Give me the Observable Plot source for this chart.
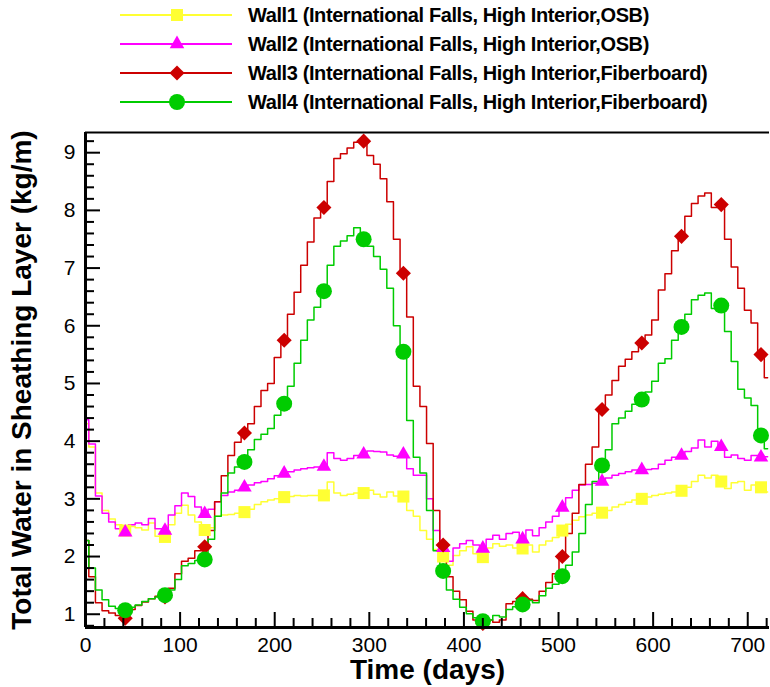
<!DOCTYPE html>
<html>
<head>
<meta charset="utf-8">
<script src="https://cdn.jsdelivr.net/npm/d3@7"></script>
<script src="https://cdn.jsdelivr.net/npm/@observablehq/plot@0.6"></script>
<style>
  html, body { margin: 0; padding: 0; background: #fff; }
  #wrap { width: 770px; height: 687px; position: relative; font-family: "Liberation Sans", Arial, Helvetica, sans-serif; }
  #legend { position: relative; width: 770px; height: 122px; }
  .lg-text { position: absolute; left: 248px; font-weight: bold; font-size: 20px; letter-spacing: -0.4px; color: #000; white-space: nowrap; transform: translateY(-50%); }
  .lg-svg { position: absolute; left: 0; }
</style>
</head>
<body>
<div id="wrap">
  <div id="legend"></div>
  <div id="chart"></div>
</div>
<script>
// ---- Data ----
const days = [0,7,14,21,28,35,42,49,56,63,70,77,84,91,98,105,112,119,126,133,140,147,154,161,168,175,182,189,196,203,210,217,224,231,238,245,252,259,266,273,280,287,294,301,308,315,322,329,336,343,350,357,364,371,378,385,392,399,406,413,420,427,434,441,448,455,462,469,476,483,490,497,504,511,518,525,532,539,546,553,560,567,574,581,588,595,602,609,616,623,630,637,644,651,658,665,672,679,686,693,700,707,714,721];

const wall1 = [4.30,3.90,3.10,2.80,2.65,2.55,2.45,2.52,2.50,2.46,2.58,2.35,2.34,2.55,2.75,2.89,2.72,2.60,2.46,2.50,2.70,2.72,2.73,2.75,2.77,2.82,2.90,2.95,2.98,3.00,3.03,3.04,3.06,3.05,3.06,3.06,3.06,3.29,3.10,3.06,3.08,3.10,3.10,3.15,3.08,3.03,3.12,3.05,3.04,2.80,2.70,2.45,2.30,2.12,2.00,1.85,2.02,2.10,2.17,2.05,1.99,2.15,2.22,2.18,2.20,2.15,2.14,2.20,2.08,2.20,2.27,2.33,2.45,2.56,2.63,2.69,2.72,2.75,2.76,2.80,2.86,2.90,2.94,2.98,3.00,3.03,3.06,3.08,3.10,3.12,3.14,3.20,3.30,3.41,3.36,3.41,3.30,3.18,3.28,3.30,3.15,3.24,3.20,3.12];

const wall2 = [4.37,3.95,3.05,2.75,2.60,2.48,2.42,2.55,2.58,2.55,2.66,2.48,2.45,2.72,2.88,3.10,3.04,2.86,2.74,2.82,2.95,3.06,3.12,3.15,3.20,3.24,3.28,3.30,3.35,3.40,3.44,3.47,3.50,3.52,3.54,3.55,3.56,3.80,3.70,3.67,3.70,3.75,3.77,3.83,3.82,3.81,3.76,3.74,3.77,3.52,3.41,3.41,3.00,2.45,2.15,1.92,2.15,2.22,2.28,2.20,2.14,2.30,2.37,2.30,2.40,2.42,2.30,2.46,2.36,2.50,2.60,2.70,2.85,3.02,3.15,3.24,3.25,3.27,3.30,3.36,3.41,3.44,3.47,3.50,3.50,3.51,3.52,3.60,3.67,3.72,3.75,3.82,3.88,4.02,3.90,4.00,3.90,3.72,3.76,3.70,3.67,3.75,3.72,3.73];

const wall3 = [2.28,1.65,1.20,1.06,1.02,0.98,0.93,1.08,1.15,1.21,1.27,1.31,1.30,1.45,1.70,1.92,1.97,2.10,2.17,2.45,2.95,3.40,3.75,3.98,4.14,4.30,4.60,4.88,5.00,5.45,5.75,6.20,6.58,7.05,7.45,7.87,8.05,8.50,8.90,8.98,9.08,9.18,9.20,8.95,8.80,8.55,8.15,7.50,6.91,6.15,4.95,4.60,3.96,2.80,2.20,1.65,1.40,1.25,1.05,0.90,0.84,0.90,0.86,0.90,1.18,1.22,1.27,1.26,1.24,1.40,1.55,1.70,2.00,2.40,2.75,3.25,3.60,3.90,4.55,4.80,5.05,5.30,5.42,5.55,5.70,5.84,6.10,6.62,6.90,7.30,7.55,7.90,8.12,8.25,8.30,8.05,8.10,7.50,7.02,6.65,6.27,6.05,5.50,5.10];

const wall4 = [2.28,1.80,1.42,1.25,1.14,1.10,1.07,1.12,1.16,1.22,1.27,1.30,1.33,1.42,1.60,1.84,1.88,1.93,1.95,2.30,2.70,3.10,3.45,3.55,3.64,3.85,4.03,4.12,4.22,4.45,4.65,4.95,5.35,5.75,6.10,6.32,6.60,7.05,7.38,7.47,7.56,7.70,7.50,7.38,7.20,6.98,6.65,6.00,5.55,4.36,3.72,3.45,2.80,2.10,1.75,1.42,1.26,1.12,1.01,0.94,0.88,0.90,0.98,0.95,1.08,1.13,1.17,1.24,1.20,1.32,1.45,1.52,1.66,1.85,2.08,2.40,2.90,3.30,3.58,3.85,4.30,4.40,4.52,4.64,4.72,4.85,5.04,5.35,5.43,5.75,5.98,6.20,6.45,6.53,6.57,6.30,6.35,5.90,5.38,4.90,4.75,4.62,4.10,3.87];

const seriesNames = [
  "Wall1 (International Falls, High Interior,OSB)",
  "Wall2 (International Falls, High Interior,OSB)",
  "Wall3 (International Falls, High Interior,Fiberboard)",
  "Wall4 (International Falls, High Interior,Fiberboard)"
];
const seriesValues = [wall1, wall2, wall3, wall4];
const seriesColors = ["#ffff33", "#ff00ff", "#cc0000", "#00cc00"];
const seriesSymbols = ["square", "triangle", "diamond2", "circle"];
const seriesMarkerR = [6.8, 5.4, 6.8, 8];
const markerEvery = 42;

const xTickLabels = [0, 100, 200, 300, 400, 500, 600, 700];
const yTickLabels = [1, 2, 3, 4, 5, 6, 7, 8, 9];
const xDomain = [0, 723];
const yDomain = [0.77, 9.35];

const xTitle = "Time (days)";
const yTitle = "Total Water in Sheathing Layer (kg/m)";

// ---- Layout ----
const W = 770, H = 565;
const mTop = 10, mBottom = 60, mLeft = 85, mRight = 1;
const plotW = W - mLeft - mRight, plotH = H - mTop - mBottom;
const FONT = "'Liberation Sans', Arial, Helvetica, sans-serif";

// ---- Legend ----
const legend = d3.select("#legend");
const symMap = {square: d3.symbolSquare, triangle: d3.symbolTriangle, diamond2: d3.symbolDiamond2, circle: d3.symbolCircle};
seriesNames.forEach((name, i) => {
  const cy = 14.5 + 29.2 * i;
  const svg = legend.append("svg").attr("class", "lg-svg")
    .attr("width", 240).attr("height", 24)
    .style("top", (cy - 12) + "px");
  svg.append("line").attr("x1", 120).attr("x2", 232).attr("y1", 12).attr("y2", 12)
    .attr("stroke", seriesColors[i]).attr("stroke-width", 2);
  svg.append("path")
    .attr("d", d3.symbol(symMap[seriesSymbols[i]], Math.PI * seriesMarkerR[i] ** 2)())
    .attr("transform", `translate(177,12)`)
    .attr("fill", seriesColors[i]);
  legend.append("div").attr("class", "lg-text").style("top", cy + "px").text(name);
});

// ---- Chart ----
const rows = [];
seriesValues.forEach((vals, s) => {
  vals.forEach((v, i) => rows.push({day: days[i], value: v, series: seriesNames[s]}));
});

const xMinor = d3.range(20, 723, 20).filter(d => d % 100 !== 0);
const yMinor = d3.range(0.8, 9.35, 0.2).map(d => +d.toFixed(1)).filter(d => Math.abs(d - Math.round(d)) > 1e-6);

const marks = [];
seriesNames.forEach((name, s) => {
  const data = rows.filter(r => r.series === name);
  marks.push(Plot.line(data, {x: "day", y: "value", stroke: seriesColors[s], strokeWidth: 1.5, curve: "step"}));
});
seriesNames.forEach((name, s) => {
  const data = rows.filter(r => r.series === name && r.day > 0 && r.day % markerEvery === 0);
  marks.push(Plot.dot(data, {x: "day", y: "value", fill: seriesColors[s], stroke: "none", symbol: seriesSymbols[s], r: seriesMarkerR[s]}));
});
// inward ticks
marks.push(Plot.tickX(xTickLabels, {x: d => d, stroke: "#000", strokeWidth: 2, insetTop: plotH - 15}));
marks.push(Plot.tickX(xMinor, {x: d => d, stroke: "#000", strokeWidth: 2, insetTop: plotH - 9}));
marks.push(Plot.tickY(yTickLabels, {y: d => d, stroke: "#000", strokeWidth: 2, insetRight: plotW - 15}));
marks.push(Plot.tickY(yMinor, {y: d => d, stroke: "#000", strokeWidth: 2, insetRight: plotW - 9}));
// frame lines
marks.push(Plot.ruleY([yDomain[0]], {stroke: "#000", strokeWidth: 3}));
marks.push(Plot.ruleX([xDomain[0]], {stroke: "#000", strokeWidth: 3}));
marks.push(Plot.ruleY([yDomain[1]], {stroke: "#000", strokeWidth: 2}));
// tick labels
marks.push(Plot.axisX(xTickLabels, {tickSize: 0, tickPadding: 10, fontSize: 21, fill: "#000", label: null, tickFormat: d => String(d)}));
marks.push(Plot.axisY(yTickLabels, {tickSize: 0, tickPadding: 10, fontSize: 21, fill: "#000", label: null, tickFormat: d => String(d)}));
// axis titles
marks.push(Plot.text([xTitle], {frameAnchor: "bottom", dy: 43, text: d => d, fontSize: 28, fontWeight: "bold", fill: "#000", lineAnchor: "middle", textAnchor: "middle"}));
marks.push(Plot.text([yTitle], {frameAnchor: "left", dx: -63, text: d => d, rotate: -90, fontSize: 28, fontWeight: "bold", fill: "#000", lineAnchor: "middle", textAnchor: "middle"}));

const chart = Plot.plot({
  width: W,
  height: H,
  marginTop: mTop,
  marginBottom: mBottom,
  marginLeft: mLeft,
  marginRight: mRight,
  style: {fontFamily: FONT, background: "#fff", color: "#000", overflow: "visible"},
  x: {domain: xDomain, axis: null},
  y: {domain: yDomain, axis: null},
  marks
});
document.getElementById("chart").appendChild(chart);
</script>
</body>
</html>
